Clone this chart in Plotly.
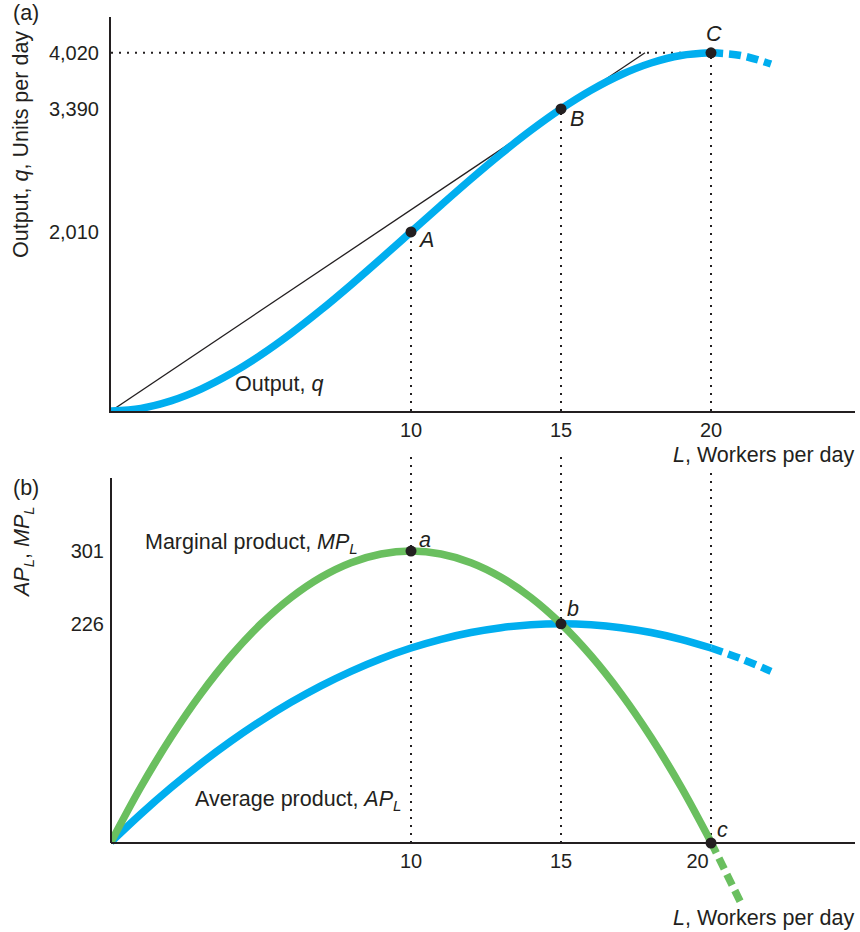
import plotly.graph_objects as go

# ---------------- data ----------------
L_q = list(range(0, 23))
q_vals = [0, 30, 114, 246, 420, 630, 870, 1134, 1416, 1710, 2010, 2310, 2604,
          2886, 3150, 3390, 3600, 3774, 3906, 3990, 4020, 3990, 3894]

L_ap = list(range(0, 23))
ap_vals = [1, 30, 57, 82, 105, 126, 145, 162, 177, 190, 201, 210, 217, 222,
           225, 226, 225, 222, 217, 210, 201, 190, 177]

L_mp = list(range(0, 22))
mp_vals = [1, 58, 109, 154, 193, 226, 253, 274, 289, 298, 301, 298, 289, 274,
           253, 226, 193, 154, 109, 58, 1, -62]

ray_L = [0, 17.8]
ray_q = [0, 4020]

pts_top_L = [10, 15, 20]
pts_top_q = [2010, 3390, 4020]
pts_top_lab = ["A", "B", "C"]

pts_bot_L = [10, 15, 20]
pts_bot_v = [301, 226, 0]
pts_bot_lab = ["a", "b", "c"]

x_ticks = [10, 15, 20]
x_tick_text = ["10", "15", "20"]
x_ticks_bottom = [10, 15, 19.55]   # "20" sits left of the falling MP line
q_ticks = [2010, 3390, 4020]
q_tick_text = ["2,010", "3,390", "4,020"]
mp_ticks = [226, 301]
mp_tick_text = ["226", "301"]

L_solid_end = 20

# ---------------- styling ----------------
BLUE = "#00AEEF"
GREEN = "#6ABF5F"
INK = "#231F20"
FONT = "Liberation Sans, Arial, Helvetica, sans-serif"
FS = 20     # tick labels
FA = 21.5   # annotations

W, H = 860, 932
ML, MR = 111, 5


def px_x(px):
    return (px - ML) / (W - ML - MR)


def px_y(py):
    return 1 - py / H


def split(xs, ys, cut):
    a = [(x, y) for x, y in zip(xs, ys) if x <= cut]
    b = [(x, y) for x, y in zip(xs, ys) if x >= cut]
    return list(zip(*a)), list(zip(*b))


fig = go.Figure()

# ---- top panel ----
(qs_x, qs_y), (qd_x, qd_y) = split(L_q, q_vals, L_solid_end)
fig.add_trace(go.Scatter(x=ray_L, y=ray_q, mode="lines",
                         line=dict(color=INK, width=1.3), xaxis="x", yaxis="y"))
fig.add_trace(go.Scatter(x=qs_x, y=qs_y, mode="lines", line_shape="spline",
                         line=dict(color=BLUE, width=7.5), xaxis="x", yaxis="y"))
fig.add_trace(go.Scatter(x=qd_x, y=qd_y, mode="lines", line_shape="spline",
                         line=dict(color=BLUE, width=7.5, dash="12px,6px"),
                         xaxis="x", yaxis="y"))
fig.add_trace(go.Scatter(x=pts_top_L, y=pts_top_q, mode="markers",
                         marker=dict(color=INK, size=11), cliponaxis=False,
                         xaxis="x", yaxis="y"))

# ---- bottom panel ----
(as_x, as_y), (ad_x, ad_y) = split(L_ap, ap_vals, L_solid_end)
(ms_x, ms_y), (md_x, md_y) = split(L_mp, mp_vals, L_solid_end)
fig.add_trace(go.Scatter(x=as_x, y=as_y, mode="lines", line_shape="spline",
                         line=dict(color=BLUE, width=7.5), xaxis="x2", yaxis="y2"))
fig.add_trace(go.Scatter(x=ad_x, y=ad_y, mode="lines", line_shape="spline",
                         line=dict(color=BLUE, width=7.5, dash="12px,6px"),
                         xaxis="x2", yaxis="y2"))
fig.add_trace(go.Scatter(x=ms_x, y=ms_y, mode="lines", line_shape="spline",
                         line=dict(color=GREEN, width=7.5), xaxis="x2", yaxis="y2"))
fig.add_trace(go.Scatter(x=md_x, y=md_y, mode="lines", line_shape="spline",
                         line=dict(color=GREEN, width=7.5, dash="12px,6px"),
                         xaxis="x2", yaxis="y2"))
fig.add_trace(go.Scatter(x=pts_bot_L, y=pts_bot_v, mode="markers",
                         marker=dict(color=INK, size=11), cliponaxis=False,
                         xaxis="x2", yaxis="y2"))

DOT = dict(color=INK, width=2, dash="2px,6px")
shapes = []
# top panel dotted guides
for Lv, qv in zip(pts_top_L, pts_top_q):
    shapes.append(dict(type="line", xref="x", yref="y", x0=Lv, x1=Lv, y0=0, y1=qv,
                       line=DOT, layer="below"))
shapes.append(dict(type="line", xref="x", yref="y", x0=0, x1=pts_top_L[-1],
                   y0=pts_top_q[-1], y1=pts_top_q[-1], line=DOT, layer="below"))
# bottom panel dotted guides
for Lv, top_px in zip(x_ticks, [455, 455, 472]):
    shapes.append(dict(type="line", xref="x2", yref="paper", x0=Lv, x1=Lv,
                       y0=px_y(843), y1=px_y(top_px), line=DOT, layer="below"))
# bottom panel y axis line
shapes.append(dict(type="line", xref="paper", yref="paper", x0=0, x1=0,
                   y0=px_y(843), y1=px_y(478), line=dict(color=INK, width=2)))

ann = []


def text(px, py, s, xanchor="center", size=FA, angle=0):
    ann.append(dict(x=px_x(px), y=px_y(py), xref="paper", yref="paper", text=s,
                    showarrow=False, xanchor=xanchor, yanchor="middle",
                    textangle=angle, font=dict(family=FONT, size=size, color=INK)))


text(26, 13, "(a)")
text(26, 488, "(b)")
text(21, 145, "Output, <i>q</i>, Units per day", angle=-90)
text(23, 552, "<i>AP<sub>L</sub></i>, <i>MP<sub>L</sub></i>", angle=-90)
text(856, 455, "<i>L</i>, Workers per day", xanchor="right")
text(856, 918, "<i>L</i>, Workers per day", xanchor="right")
text(233, 384, "Output, <i>q</i>", xanchor="left")
text(143, 543, "Marginal product, <i>MP<sub>L</sub></i>", xanchor="left")
text(193, 800, "Average product, <i>AP<sub>L</sub></i>", xanchor="left")
for lab, (px, py) in zip(pts_top_lab, [(426, 240), (577, 119), (714, 34)]):
    text(px, py, f"<i>{lab}</i>")
for lab, (px, py) in zip(pts_bot_lab, [(425, 540), (573, 609), (722, 830)]):
    text(px, py, f"<i>{lab}</i>")

x_range = [0, 24.8]
axis_common = dict(showgrid=False, zeroline=False, ticks="",
                   tickfont=dict(family=FONT, size=FS, color=INK),
                   linecolor=INK, linewidth=2)

fig.update_layout(
    width=W, height=H, showlegend=False,
    margin=dict(l=ML, r=MR, t=0, b=0, autoexpand=False),
    paper_bgcolor="white", plot_bgcolor="white",
    font=dict(family=FONT, size=FS, color=INK),
    xaxis=dict(domain=[0, 1], range=x_range, anchor="y", showline=True,
               tickvals=x_ticks, ticktext=x_tick_text, **axis_common),
    yaxis=dict(domain=[px_y(411), px_y(17)], range=[0, 4422], anchor="x",
               showline=True, tickvals=q_ticks, ticktext=q_tick_text,
               ticklabelstandoff=6, **axis_common),
    xaxis2=dict(domain=[0, 1], range=x_range, anchor="free", position=px_y(843),
                showline=True, tickvals=x_ticks_bottom, ticktext=x_tick_text,
                **axis_common),
    yaxis2=dict(domain=[0, px_y(478)], range=[-91.75, 376.3], anchor="x2",
                showline=False, tickvals=mp_ticks, ticktext=mp_tick_text,
                ticklabelstandoff=6, **axis_common),
    shapes=shapes, annotations=ann,
)

fig.write_html(
    "out.html",
    config={"displayModeBar": False},
    post_script="document.body.style.margin='0';document.body.style.overflow='hidden';",
)
